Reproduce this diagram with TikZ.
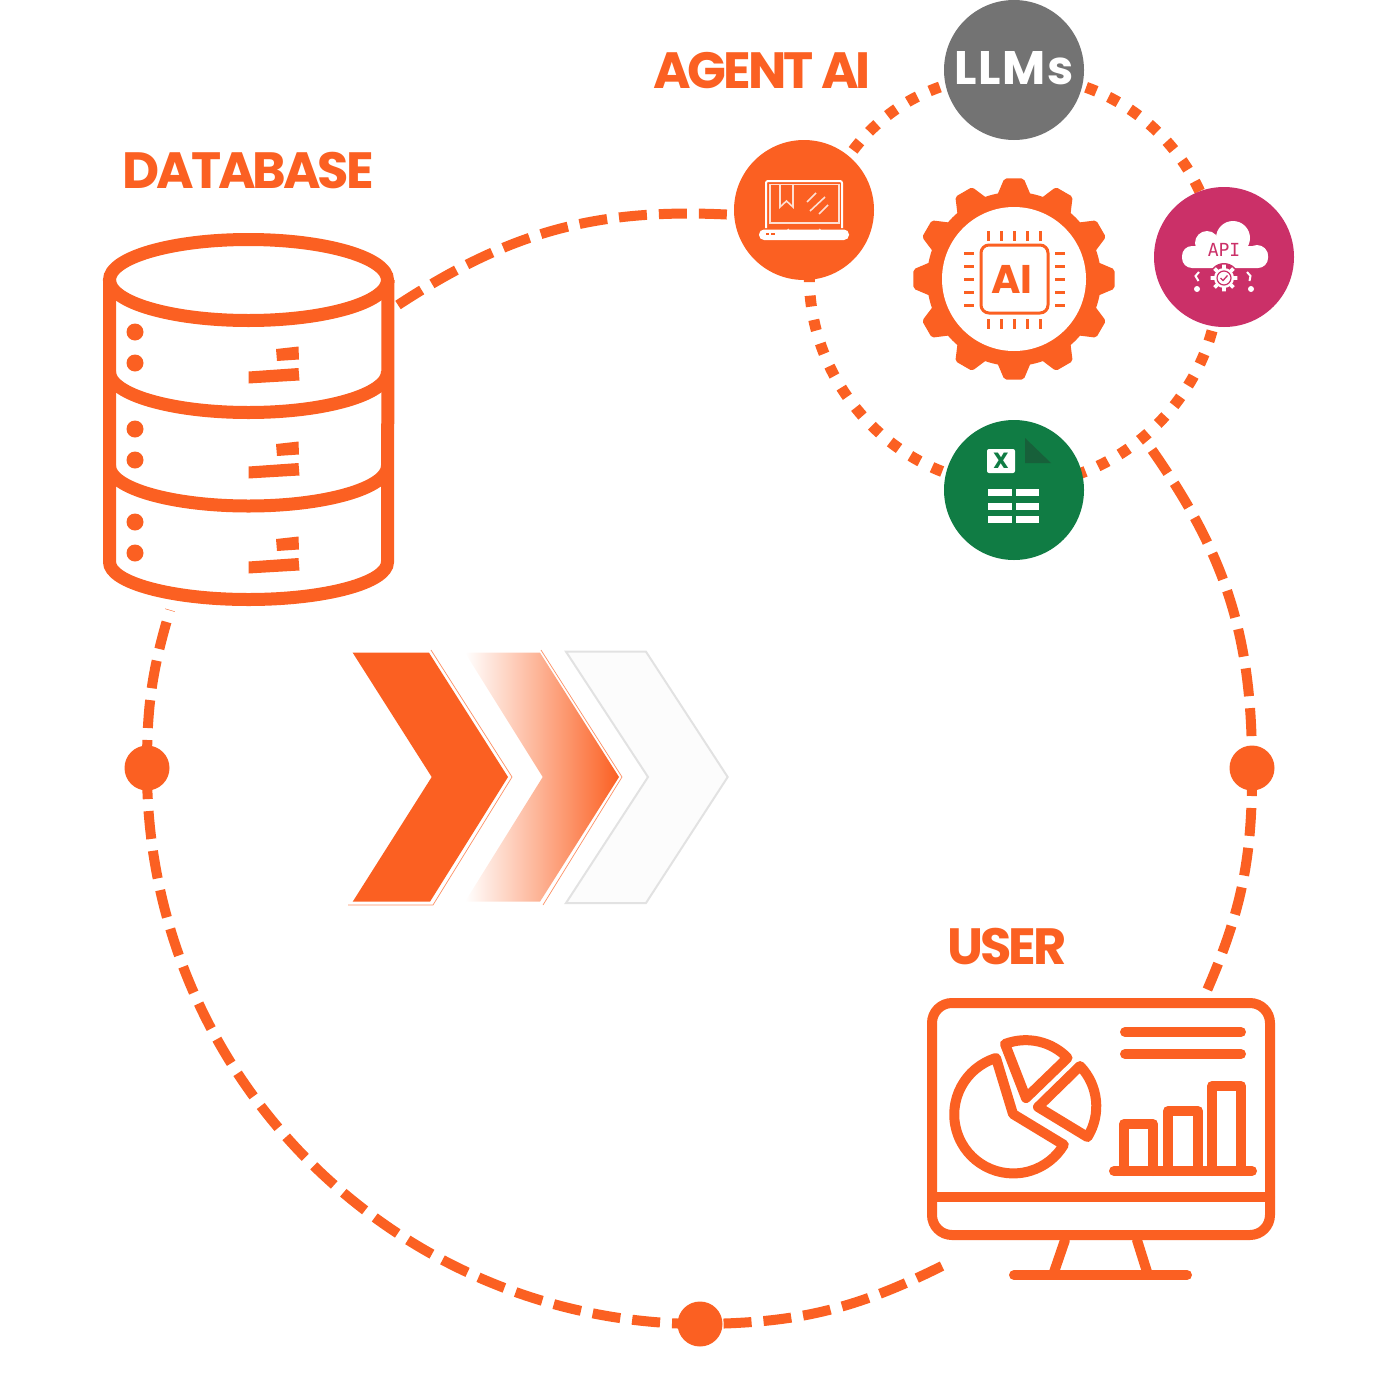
\documentclass[tikz,border=0pt]{standalone}
\usepackage{fontspec}
\usetikzlibrary{backgrounds}
\setmainfont{Poppins}
\newfontfamily\labelfont[LetterSpace=-6]{Poppins}
\newfontfamily\llmfont[LetterSpace=3]{Poppins}
\newfontfamily\chipfont{Poppins}
\newfontfamily\apifont{DejaVu Sans Mono}
\definecolor{brand}{HTML}{FB6022}
\definecolor{llmgray}{HTML}{737373}
\definecolor{apipink}{HTML}{CB3068}
\definecolor{excelgreen}{HTML}{107C44}
\definecolor{exceldark}{HTML}{17603A}
\definecolor{ghost}{HTML}{E2E2E2}
\begin{document}
\begin{tikzpicture}[x=1pt,y=-1pt,
                    hub/.style={circle, minimum size=140, inner sep=0pt},
                    joint/.style={circle, fill=brand, minimum size=45, inner sep=0pt},
                    heading/.style={anchor=base, text=brand, inner sep=0pt, font=\labelfont\bfseries\fontsize{51}{51}\selectfont},
                    bigring/.style={draw=brand, line width=10, dash pattern=on 28 off 12},
                    smallring/.style={draw=brand, line width=11, dash pattern=on 11 off 13.5},
                    outline/.style={draw=brand, line width=10, line join=round, line cap=round},
                    shell/.style={draw=brand, line width=13},
                    iconline/.style={draw=white, line width=1.6, opacity=.8},
                    rim/.style={draw=brand, line width=.7, opacity=.7}]
  \useasboundingbox (0,0) rectangle (1400,1400);

  % agent circle
  \node[hub, fill=llmgray](llm) at (1014,70) {};
  \node[hub, fill=brand](laptop) at (804,210) {};
  \node[hub, fill=apipink](api) at (1224,257) {};
  \node[hub, fill=excelgreen](excel) at (1014,490) {};
  \node[anchor=base, text=white, inner sep=0pt, font=\llmfont\bfseries\fontsize{47}{47}\selectfont](llmtext) at (1014,84) {LLMs};
  \coordinate (llmrim) at ([yshift=-5]llm.center);
  \coordinate (laptoprim) at ([xshift=15.5,yshift=-5.3]laptop.center);
  \coordinate (apirim) at ([xshift=-6,yshift=-1]api.center);
  \coordinate (excelrim) at ([yshift=5]excel.center);

  % big circle ends
  \node[joint](jointleft) at (147,768) {};
  \node[joint](jointright) at (1252,768) {};
  \node[joint](jointbottom) at (700,1324) {};
  \coordinate (dbtop) at (398,305);
  \coordinate (dbbottom) at (170,610);
  \coordinate (ringjoin) at (1152,450);
  \coordinate (usertop) at (1205,995);
  \coordinate (userleft) at (942,1266);

  \begin{scope}[on background layer]
    \draw[smallring] (llmrim) to[bend left=42] (apirim);
    \draw[smallring] (apirim) to[bend left=48] (excelrim);
    \draw[smallring] (excelrim) to[bend left=54, looseness=1.06] (laptoprim);
    \draw[smallring] (laptoprim) to[bend left=36] (llmrim);
    \draw[bigring] (dbtop) to[bend left=18.2] (laptop.184);
    \draw[bigring] (ringjoin) to[bend left=17.6] (jointright.center);
    \draw[bigring] (jointright.center) to[bend left=12] (usertop);
    \draw[bigring] (userleft) to[bend left=13] (jointbottom.center);
    \draw[bigring] (jointbottom.center) to[bend left=45] (jointleft.center);
    \draw[bigring] (jointleft.center) to[bend left=8.4] (dbbottom);
  \end{scope}

  \node[heading](dbtitle) at (248,188) {DATABASE};
  \node[heading](agenttitle) at (762,88) {AGENT AI};
  \node[heading](usertitle) at (1007,964) {USER};

  % database
  \draw[shell] (248.5,280) ellipse [x radius=139, y radius=40.5];
  \draw[shell] (109.5,280) -- (109.5,562) arc[start angle=180, end angle=0, x radius=139, y radius=37.5] -- (388,280);
  \draw[shell] (109.5,372) arc[start angle=180, end angle=0, x radius=139, y radius=40.5];
  \draw[shell] (109.5,466) arc[start angle=180, end angle=0, x radius=139, y radius=40];
  \foreach \dy/\ey in {0/0,95/97,190/190}{
    \fill[brand] (135,332+\ey) circle (8.5);
    \fill[brand] (135,363+\ey) circle (8.5);
    \fill[brand] (276,349+\dy) -- (298.5,346.5+\dy) -- (299,359.5+\dy) -- (277,361+\dy) -- cycle;
    \fill[brand] (248.5,371.5+\dy) -- (298.5,368+\dy) -- (299.5,380.5+\dy) -- (248.5,383.5+\dy) -- cycle;
  }

  % chevrons
  \fill[brand] (352.7,652.7) -- (429,652.7) -- (508,777) -- (430,901.7) -- (352.7,901.7) -- (431.7,777) -- cycle;
  \draw[rim] (431,650) -- (512,777) -- (433,905) -- (348,905);
  \shade[left color=white, right color=brand] (465,652.7) -- (540,652.7) -- (619,777) -- (540,901.7) -- (465,901.7) -- (542.7,777) -- cycle;
  \draw[rim] (541,650) -- (622,777) -- (543,905);
  \draw[draw=ghost, fill=white!99!black, line width=2] (566,651.7) -- (646,651.7) -- (727.7,777) -- (646,903) -- (566,903) -- (648,777) -- cycle;

  % gear and chip
  \begin{scope}[shift={(1014,279)}]
    \fill[brand] (0,0) circle (87);
    \foreach \a in {0,30,...,330}
      \fill[brand, rounded corners=2] (\a-12:84) -- (\a-5.5:101) -- (\a+5.5:101) -- (\a+12:84) -- cycle;
    \fill[white] (0,0) circle (72);
    \draw[brand, line width=3, rounded corners=8] (-33,-34) rectangle (34,34);
    \foreach \p in {-26,-13,0,13,26}{
      \draw[brand, line width=3] (\p,-48) -- (\p,-38);
      \draw[brand, line width=3] (\p,40) -- (\p,50);
      \draw[brand, line width=3] (-50,\p) -- (-40,\p);
      \draw[brand, line width=3] (41,\p) -- (51,\p);
    }
  \end{scope}
  \node[anchor=base, text=brand, inner sep=0pt, font=\chipfont\bfseries\fontsize{40}{40}\selectfont](chiptext) at (1012,293) {AI};

  % laptop
  \draw[white, line width=2, rounded corners=2] (766,228) -- (766,181) -- (842,181) -- (842,228);
  \draw[iconline] (770,184.5) rectangle (839,223);
  \draw[iconline] (780,185) -- (780,207) -- (786.5,201) -- (793,207) -- (793,185);
  \draw[iconline] (807,202) -- (816,193);
  \draw[iconline] (810,211) -- (825,197);
  \draw[iconline] (819,214) -- (828,205);
  \fill[white] (759,229.5) [rounded corners=5] rectangle (849,240);
  \draw[iconline] (788,229) -- (790,234) -- (818,234) -- (820,229);
  \fill[brand] (765.5,233) rectangle (769,234.5);
  \fill[brand] (771,233) rectangle (774.5,234.5);

  % api
  \fill[white, rounded corners=10] (1182,246) rectangle (1268,268);
  \fill[white] (1207,243) circle (12);
  \fill[white] (1233,238) circle (17);
  \fill[white] (1257,256) circle (11);
  \node[anchor=base, text=apipink, inner sep=0pt, font=\apifont\fontsize{18}{18}\selectfont](apitext) at (1224,256) {API};
  \begin{scope}[shift={(1224,278)}]
    \fill[apipink] (0,0) circle (15);
    \fill[white] (0,0) circle (10);
    \foreach \a in {0,45,...,315}
      \fill[white] (\a-12:9) -- (\a-8:13.5) -- (\a+8:13.5) -- (\a+12:9) -- cycle;
    \draw[apipink, line width=1.2] (0,0) circle (7);
    \draw[apipink, line width=1.3] (-3.5,0) -- (-1,2.5) -- (3.5,-2.5);
  \end{scope}
  \draw[white, line width=2] (1199,272) -- (1195.5,276) -- (1198.5,281);
  \draw[white, line width=2] (1247,272) -- (1250.5,276) -- (1249.5,281);
  \fill[white] (1197,289) circle (3);
  \fill[white] (1251,289) circle (3);

  % excel
  \fill[white, rounded corners=2] (987,449) rectangle (1015,473);
  \node[text=excelgreen, inner sep=0pt, font=\chipfont\bfseries\fontsize{22}{22}\selectfont](exceltext) at (1001,461) {X};
  \fill[exceldark] (1025,438) -- (1025,463) -- (1051,463) -- cycle;
  \foreach \r in {489,502.5,516}{
    \fill[white] (988,\r) rectangle (1012,\r+7);
    \fill[white] (1016,\r) rectangle (1039,\r+7);
  }

  % monitor
  \draw[outline, rounded corners=20] (932,1197) -- (932,1003) -- (1270,1003) -- (1270,1235) -- (932,1235) -- cycle;
  \draw[outline] (932,1197) -- (1270,1197);
  \draw[outline] (1065,1240) -- (1053,1275);
  \draw[outline] (1137,1240) -- (1148,1275);
  \draw[outline] (1014,1275) -- (1187,1275);
  \draw[outline] (1125,1032) -- (1241,1032);
  \draw[outline] (1125,1054) -- (1241,1054);
  \draw[outline] (1114,1171) -- (1252,1171);
  \draw[outline] (1124,1171) -- (1124,1124) -- (1153,1124) -- (1153,1171);
  \draw[outline] (1168,1171) -- (1168,1111) -- (1198,1111) -- (1198,1171);
  \draw[outline] (1212,1171) -- (1212,1086) -- (1241,1086) -- (1241,1171);
  \draw[outline] (1013,1114) -- (996,1058) arc[start angle=253, end angle=31, radius=59] -- cycle;
  \draw[outline] (1026,1098) -- (1005,1044) arc[start angle=249, end angle=316, radius=58] -- cycle;
  \draw[outline] (1038,1107) -- (1080,1066) arc[start angle=-44, end angle=32, radius=58] -- cycle;
\end{tikzpicture}
\end{document}
